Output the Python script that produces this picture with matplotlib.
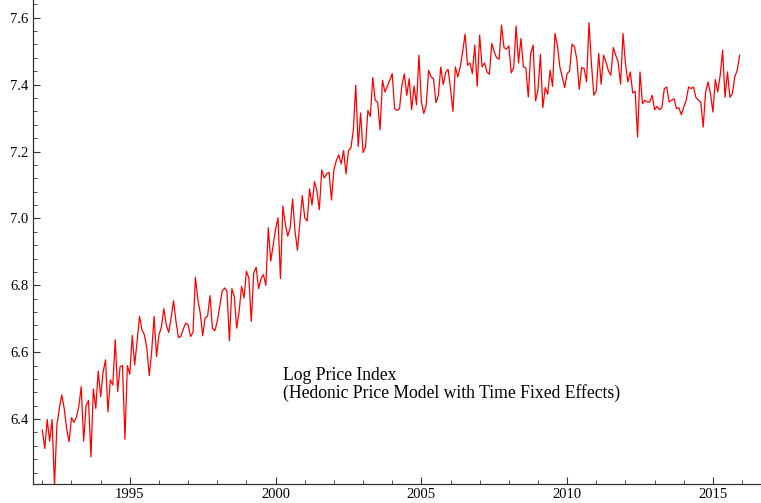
import numpy as np
import matplotlib
matplotlib.use("Agg")
import matplotlib.pyplot as plt
from matplotlib.ticker import MultipleLocator

# Monthly log price index, January 1992 onwards
log_price_1992_1997 = [
    6.367, 6.312, 6.399, 6.334, 6.399, 6.204, 6.382, 6.432, 6.472, 6.432, 6.372, 6.332,
    6.404, 6.390, 6.405, 6.437, 6.497, 6.334, 6.440, 6.456, 6.287, 6.490, 6.432, 6.544,
    6.467, 6.540, 6.577, 6.422, 6.517, 6.502, 6.637, 6.482, 6.557, 6.560, 6.340, 6.560,
    6.534, 6.650, 6.562, 6.632, 6.707, 6.667, 6.652, 6.612, 6.530, 6.602, 6.707, 6.587,
    6.652, 6.674, 6.730, 6.682, 6.659, 6.702, 6.754, 6.692, 6.644, 6.647, 6.669, 6.687,
    6.682, 6.647, 6.659, 6.824, 6.757, 6.717, 6.649, 6.702, 6.707, 6.769, 6.672, 6.664,
]
log_price_1998_2003 = [
    6.692, 6.737, 6.782, 6.792, 6.782, 6.634, 6.790, 6.767, 6.672, 6.722, 6.797, 6.762,
    6.842, 6.822, 6.692, 6.837, 6.854, 6.790, 6.820, 6.832, 6.800, 6.972, 6.872, 6.920,
    6.968, 7.002, 6.820, 7.037, 6.983, 6.947, 6.972, 7.058, 6.962, 6.905, 6.988, 7.068,
    7.002, 6.992, 7.088, 7.040, 7.110, 7.083, 7.026, 7.145, 7.121, 7.133, 7.138, 7.055,
    7.145, 7.173, 7.190, 7.163, 7.203, 7.133, 7.203, 7.211, 7.263, 7.398, 7.215, 7.315,
    7.197, 7.213, 7.323, 7.305, 7.421, 7.353, 7.348, 7.265, 7.413, 7.378, 7.395, 7.413,
]
log_price_2004_2009 = [
    7.433, 7.328, 7.323, 7.328, 7.398, 7.432, 7.368, 7.418, 7.325, 7.396, 7.340, 7.488,
    7.350, 7.314, 7.338, 7.443, 7.423, 7.418, 7.346, 7.368, 7.453, 7.400, 7.436, 7.446,
    7.388, 7.320, 7.453, 7.423, 7.453, 7.498, 7.551, 7.458, 7.465, 7.433, 7.518, 7.395,
    7.548, 7.453, 7.465, 7.438, 7.431, 7.523, 7.498, 7.480, 7.476, 7.578, 7.511, 7.506,
    7.516, 7.435, 7.451, 7.575, 7.465, 7.538, 7.453, 7.450, 7.363, 7.493, 7.518, 7.351,
    7.383, 7.490, 7.331, 7.391, 7.371, 7.443, 7.395, 7.553, 7.518, 7.453, 7.423, 7.391,
]
log_price_2010_2015 = [
    7.433, 7.440, 7.521, 7.513, 7.476, 7.386, 7.451, 7.448, 7.408, 7.585, 7.463, 7.368,
    7.381, 7.493, 7.401, 7.488, 7.468, 7.441, 7.428, 7.511, 7.488, 7.468, 7.401, 7.553,
    7.463, 7.408, 7.438, 7.375, 7.380, 7.243, 7.438, 7.343, 7.353, 7.348, 7.348, 7.368,
    7.325, 7.335, 7.325, 7.331, 7.388, 7.393, 7.348, 7.353, 7.358, 7.328, 7.331, 7.310,
    7.333, 7.353, 7.393, 7.388, 7.393, 7.362, 7.354, 7.348, 7.273, 7.378, 7.408, 7.373,
    7.318, 7.415, 7.378, 7.428, 7.503, 7.362, 7.438, 7.362, 7.373, 7.423, 7.443, 7.488,
]
start_year = 1992

values = np.array(log_price_1992_1997 + log_price_1998_2003 +
                  log_price_2004_2009 + log_price_2010_2015)
dates = start_year + np.arange(len(values)) / 12.0

plt.rcParams["font.family"] = ["Liberation Serif", "DejaVu Serif"]

fig = plt.figure(figsize=(7.61, 5.03), dpi=100)
ax = fig.add_axes([0.043, 0.0378, 0.957, 0.9622])

ax.plot(dates, values, color="#ff0000", linewidth=0.9)

ax.set_xlim(1991.67, 2016.65)
ax.set_ylim(6.206, 7.653)

ax.xaxis.set_major_locator(MultipleLocator(5))
ax.xaxis.set_minor_locator(MultipleLocator(1))
ax.yaxis.set_major_locator(MultipleLocator(0.2))
ax.yaxis.set_minor_locator(MultipleLocator(0.04))
ax.yaxis.set_major_formatter(plt.FuncFormatter(lambda v, p: f"{v:.1f}"))

for side in ("top", "right"):
    ax.spines[side].set_visible(False)
for side in ("left", "bottom"):
    ax.spines[side].set_color("#333333")
    ax.spines[side].set_linewidth(0.9)

ax.tick_params(which="major", direction="in", length=5, width=0.8,
               colors="#333333", labelcolor="black", labelsize=10.5, pad=3)
ax.tick_params(which="minor", direction="in", length=2.8, width=0.6,
               colors="#333333")

ax.text(2000.26, 6.557,
        "Log Price Index\n(Hedonic Price Model with Time Fixed Effects)",
        ha="left", va="top", fontsize=12.7, linespacing=1.0)

fig.savefig("out.png", dpi=100)
